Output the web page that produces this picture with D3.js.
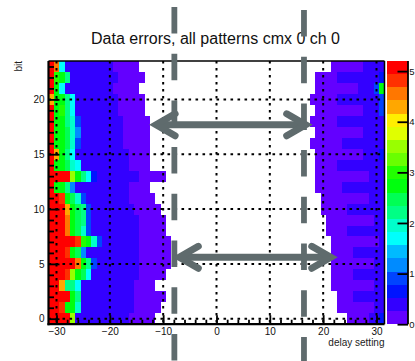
<!DOCTYPE html>
<html>
<head>
<meta charset="utf-8">
<script src="https://cdn.jsdelivr.net/npm/d3@7"></script>
<style>
  html, body { margin: 0; padding: 0; background: #fff; overflow: hidden; }
  svg { display: block; font-family: "Liberation Sans", Arial, Helvetica, sans-serif; }
</style>
</head>
<body>
<svg id="chart" width="415" height="361"></svg>
<script>
// ---- data ---------------------------------------------------------------
const delays = d3.range(-31, 32);          // delay setting bins
const bits = d3.range(0, 24);              // bit number bins
const xTicks = [-30, -20, -10, 0, 10, 20, 30];
const yTicks = [0, 5, 10, 15, 20];
const zTicks = [0, 1, 2, 3, 4, 5];
const zMax = 5.2;
const nLevels = 20;

// Error rate per bit, run-length encoded as [value, number of delay bins].
// leftRuns start at delay -31 and go right; rightRuns end at delay +31.
// Bins between the two blocks are empty (no errors).
const leftRuns = [
  [[5.1,4],[3.5,1],[0.4,10],[0.15,5]],                                      // bit 0
  [[5.1,2],[4.8,1],[2.7,2],[1.95,1],[0.4,10],[0.15,5]],                     // bit 1
  [[5.1,4],[2.7,1],[2.2,1],[0.4,10],[0.15,6]],                              // bit 2
  [[5.1,2],[4.3,1],[2.2,2],[1.7,1],[0.4,10],[0.15,4]],                      // bit 3
  [[5.1,3],[4.8,1],[3.5,1],[2.7,1],[2.45,1],[1.7,1],[0.4,9],[0.15,5]],      // bit 4
  [[5.1,5],[4.55,1],[2.7,1],[2.2,1],[0.9,1],[0.4,8],[0.15,6]],              // bit 5
  [[5.1,3],[4.8,1],[2.7,1],[2.45,1],[1.2,1],[0.4,10],[0.15,6]],             // bit 6
  [[5.1,5],[4.8,1],[2.95,1],[2.7,1],[1.95,1],[0.9,1],[0.4,7],[0.15,6]],     // bit 7
  [[5.1,3],[4.55,1],[2.7,1],[2.45,1],[1.95,1],[0.9,1],[0.4,9],[0.15,5]],    // bit 8
  [[5.1,3],[4.55,1],[2.7,1],[2.45,1],[2.2,1],[0.9,1],[0.4,9],[0.15,5]],     // bit 9
  [[5.1,3],[4.3,1],[2.7,1],[2.45,1],[2.2,1],[0.9,1],[0.4,8],[0.15,5]],      // bit 10
  [[5.1,2],[4.8,1],[2.7,1],[2.45,1],[1.95,1],[0.9,1],[0.4,8],[0.15,5]],     // bit 11
  [[5.1,1],[2.7,2],[2.2,1],[1.2,1],[0.4,10],[0.15,4]],                      // bit 12
  [[5.1,4],[3.5,1],[2.7,1],[2.2,1],[1.7,1],[0.65,1],[0.4,8],[0.15,5]],      // bit 13
  [[5.1,1],[2.7,2],[2.45,1],[1.95,1],[1.7,1],[0.4,9],[0.15,4]],             // bit 14
  [[5.1,1],[4.3,1],[2.7,1],[2.2,1],[1.7,1],[0.4,10],[0.15,4]],              // bit 15
  [[5.1,1],[2.7,2],[2.45,1],[1.95,1],[0.9,1],[0.4,8],[0.15,5]],             // bit 16
  [[5.1,1],[2.7,2],[2.45,1],[1.95,1],[1.2,1],[0.4,8],[0.15,5]],             // bit 17
  [[5.1,1],[2.7,2],[2.2,1],[1.95,1],[0.9,1],[0.4,8],[0.15,5]],              // bit 18
  [[5.1,1],[2.7,1],[2.95,1],[2.2,1],[1.7,1],[0.4,8],[0.15,5]],              // bit 19
  [[4.3,1],[2.7,2],[2.2,1],[1.7,1],[0.4,8],[0.15,5]],                       // bit 20
  [[5.1,1],[2.7,1],[1.7,1],[0.4,9],[0.15,5]],                               // bit 21
  [[5.1,1],[2.95,1],[2.7,1],[2.2,1],[0.4,9],[0.15,5]],                      // bit 22
  [[5.1,1],[4.55,1],[1.7,1],[0.4,9],[0.15,5]]                               // bit 23
];
const rightRuns = [
  [[0.15,4],[0.4,2],[0.65,1]],            // bit 0
  [[0.15,7],[0.4,2]],                     // bit 1
  [[0.15,3],[0.4,6]],                     // bit 2
  [[0.15,8],[0.4,2]],                     // bit 3
  [[0.15,4],[0.4,6]],                     // bit 4
  [[0.15,8],[0.4,2]],                     // bit 5
  [[0.15,4],[0.4,6]],                     // bit 6
  [[0.15,9],[0.4,1]],                     // bit 7
  [[0.15,4],[0.4,7]],                     // bit 8
  [[0.15,9],[0.4,2]],                     // bit 9
  [[0.15,5],[0.4,7]],                     // bit 10
  [[0.15,9],[0.4,3]],                     // bit 11
  [[0.15,5],[0.4,8]],                     // bit 12
  [[0.15,10],[0.4,3]],                    // bit 13
  [[0.15,4],[0.4,9]],                     // bit 14
  [[0.15,9],[0.4,3],[0.65,1]],            // bit 15
  [[0.15,6],[0.4,8]],                     // bit 16
  [[0.15,9],[0.4,4]],                     // bit 17
  [[0.15,5],[0.4,9]],                     // bit 18
  [[0.15,9],[0.4,3],[0.9,1]],             // bit 19
  [[0.15,5],[0.4,8],[0.9,1]],             // bit 20
  [[0.15,8],[0.4,3],[0.9,1],[2.8,1]],     // bit 21
  [[0.15,4],[0.4,8],[0.65,1]],            // bit 22
  [[0.15,6],[0.4,4]]                      // bit 23
];

// Annotation overlay: vertical marker delays and the two double arrows
const markerDelays = [-7.9, 16.4];
const arrows = [
  { bit: 17.68, from: -12.45, to: 17.85 },
  { bit: 5.6,   from: -8.1,   to: 22.55 }
];

// ---- layout -------------------------------------------------------------
const svg = d3.select("#chart");
const W = 415, H = 361;
const frame = { left: 48.5, right: 384.5, top: 61, bottom: 324.2 };
const bar = { left: 387, right: 408 };

const x = d3.scaleLinear().domain([-31.5, 31.5]).range([frame.left, frame.right]);
const y = d3.scaleLinear().domain([-0.5, 23.5]).range([frame.bottom, frame.top]);
const z = d3.scaleLinear().domain([0, zMax]).range([frame.bottom, frame.top]);
const dz = zMax / nLevels;

// ROOT-style "pretty" palette: 50 hues from violet to red, sampled by contour level
function levelColor(j) {
  const idx = Math.floor((j + 0.99) * 50 / nLevels);
  const hue = 280 - (idx + 1) * 280 / 50;
  return d3.hsl(hue, 1, 0.5).formatHex();
}
const levelOf = v => Math.max(0, Math.min(nLevels - 1, Math.floor(v / dz)));

// Expand the runs into individual bins
const cells = [];
bits.forEach(b => {
  let d = delays[0];
  leftRuns[b].forEach(([v, n]) => {
    for (let i = 0; i < n; i++) cells.push({ bit: b, delay: d++, value: v });
  });
  d = delays[delays.length - 1] - d3.sum(rightRuns[b], r => r[1]) + 1;
  rightRuns[b].forEach(([v, n]) => {
    for (let i = 0; i < n; i++) cells.push({ bit: b, delay: d++, value: v });
  });
});

svg.append("rect").attr("width", W).attr("height", H).attr("fill", "#fff");

// Histogram bins
svg.append("g").attr("shape-rendering", "crispEdges")
  .selectAll("rect").data(cells.filter(c => c.value > 0)).join("rect")
  .attr("x", d => x(d.delay - 0.5))
  .attr("y", d => y(d.bit + 0.5))
  .attr("width", d => x(d.delay + 0.5) - x(d.delay - 0.5))
  .attr("height", d => y(d.bit - 0.5) - y(d.bit + 0.5))
  .attr("fill", d => levelColor(levelOf(d.value)));

// Dotted grid
const grid = svg.append("g").attr("stroke", "#000").attr("stroke-width", 2)
  .attr("stroke-dasharray", "2.6 4.4");
grid.selectAll("line.gx").data(xTicks).join("line").attr("class", "gx")
  .attr("x1", d => x(d)).attr("x2", d => x(d))
  .attr("y1", frame.top).attr("y2", frame.bottom);
grid.selectAll("line.gy").data(yTicks).join("line").attr("class", "gy")
  .attr("y1", d => y(d)).attr("y2", d => y(d))
  .attr("x1", frame.left).attr("x2", frame.right);

// Axes (ticks drawn inside the frame)
const tickFont = g => g.selectAll("text").attr("font-size", 10).attr("fill", "#111")
  .attr("font-family", "'Liberation Sans', Arial, sans-serif");
const styleAxis = g => {
  g.select(".domain").remove();
  g.selectAll(".tick line").attr("stroke", "#000").attr("stroke-width", 1.8);
};

svg.append("g").attr("transform", `translate(${frame.left},0)`)
  .call(d3.axisLeft(y).tickValues(bits.filter(b => !yTicks.includes(b))).tickSize(-5.5).tickFormat(""))
  .call(styleAxis);
svg.append("g").attr("transform", `translate(${frame.left},0)`)
  .call(d3.axisLeft(y).tickValues(yTicks).tickSize(-11).tickPadding(4))
  .call(styleAxis).call(tickFont);

const xMinor = d3.range(-30, 31, 2).filter(v => !xTicks.includes(v));
svg.append("g").attr("transform", `translate(0,${frame.bottom})`)
  .call(d3.axisBottom(x).tickValues(xMinor).tickSize(-4.5).tickFormat(""))
  .call(styleAxis);
svg.append("g").attr("transform", `translate(0,${frame.bottom})`)
  .call(d3.axisBottom(x).tickValues(xTicks).tickSize(-9).tickPadding(4))
  .call(styleAxis).call(tickFont);

// Frame
const fr = svg.append("g").attr("stroke", "#000").attr("fill", "none");
fr.append("line").attr("x1", frame.left).attr("x2", frame.right)
  .attr("y1", frame.top).attr("y2", frame.top).attr("stroke-width", 1.5);
fr.append("line").attr("x1", frame.right).attr("x2", frame.right)
  .attr("y1", frame.top).attr("y2", frame.bottom).attr("stroke-width", 1.5);
fr.append("line").attr("x1", frame.left).attr("x2", frame.left)
  .attr("y1", frame.top).attr("y2", frame.bottom + 1).attr("stroke-width", 2.2);
fr.append("line").attr("x1", frame.left - 1).attr("x2", frame.right)
  .attr("y1", frame.bottom).attr("y2", frame.bottom).attr("stroke-width", 2.2);

// Colour scale
svg.append("g").attr("shape-rendering", "crispEdges")
  .selectAll("rect").data(d3.range(nLevels)).join("rect")
  .attr("x", bar.left).attr("width", bar.right - bar.left)
  .attr("y", j => z((j + 1) * dz)).attr("height", j => z(j * dz) - z((j + 1) * dz))
  .attr("fill", j => levelColor(j));
svg.append("g").attr("transform", `translate(${bar.right},0)`)
  .call(d3.axisRight(z).tickValues(zTicks).tickFormat(d3.format("d")).tickSize(-10.5).tickPadding(1.2))
  .call(g => g.select(".domain").remove())
  .call(g => g.selectAll(".tick line").attr("stroke", "#000").attr("stroke-width", 1.8))
  .call(tickFont)
  .call(g => g.selectAll("text").attr("font-size", 9.5));
svg.append("line").attr("x1", bar.right).attr("x2", bar.right)
  .attr("y1", frame.top).attr("y2", frame.bottom).attr("stroke", "#000").attr("stroke-width", 1.8);

// Titles
svg.append("text").attr("x", 215.5).attr("y", 44).attr("text-anchor", "middle")
  .attr("font-size", 16).attr("fill", "#111").text("Data errors, all patterns cmx 0 ch 0");
svg.append("text").attr("x", frame.right).attr("y", 346).attr("text-anchor", "end")
  .attr("font-size", 10).attr("fill", "#222").text("delay setting");
svg.append("text").attr("transform", `translate(22,${frame.top}) rotate(-90)`)
  .attr("text-anchor", "end").attr("font-size", 10).attr("fill", "#222").text("bit");

// Annotation overlay
const ink = "#5f6b6d";
const ov = svg.append("g").attr("stroke", ink).attr("fill", "none");
ov.selectAll("line.marker").data(markerDelays).join("line").attr("class", "marker")
  .attr("x1", d => x(d)).attr("x2", d => x(d))
  .attr("y1", 0).attr("y2", H)
  .attr("stroke-width", 5.8)
  .attr("stroke-dasharray", "26.5 20.2")
  .attr("stroke-dashoffset", (d, i) => i === 0 ? -7 : -10);

const head = { back: 19, spread: 11, inset: 6 };
arrows.forEach(a => {
  const yy = y(a.bit);
  const xl = x(a.from) + head.inset, xr = x(a.to) - head.inset;
  ov.append("line").attr("x1", xl).attr("x2", xr).attr("y1", yy).attr("y2", yy)
    .attr("stroke-width", 7);
  const path = d3.path();
  path.moveTo(xl + head.back, yy - head.spread); path.lineTo(xl, yy); path.lineTo(xl + head.back, yy + head.spread);
  path.moveTo(xr - head.back, yy - head.spread); path.lineTo(xr, yy); path.lineTo(xr - head.back, yy + head.spread);
  ov.append("path").attr("d", path.toString()).attr("stroke-width", 7)
    .attr("stroke-linecap", "round").attr("stroke-linejoin", "miter");
});
</script>
</body>
</html>
